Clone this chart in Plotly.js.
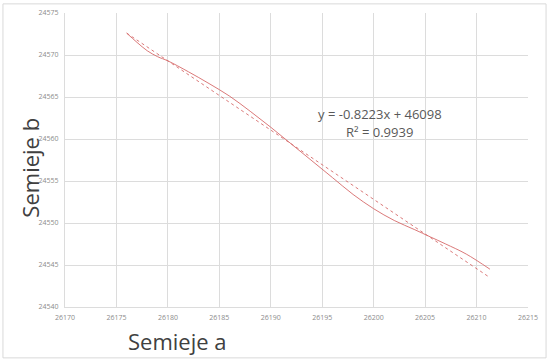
<!DOCTYPE html>
<html>
<head>
  <title>Semieje a vs Semieje b</title>
  <script src="https://cdn.plot.ly/plotly-3.0.1.min.js"></script>
  <style>
    body { margin: 0; background: #fff; }
    #graph { width: 550px; height: 362px; }
  </style>
</head>
<body>
  <div id="graph"></div>
  <script>
    const semiejeA = [26176.0, 26177, 26178, 26179, 26180, 26182, 26184, 26186, 26188, 26190,
                      26192, 26194, 26196, 26198, 26200, 26202, 26204, 26205.5, 26207, 26209, 26211.3];
    const semiejeB = [24572.6, 24571.5, 24570.5, 24569.8, 24569.3, 24568.0, 24566.6, 24565.1, 24563.3, 24561.4,
                      24559.4, 24557.4, 24555.4, 24553.4, 24551.7, 24550.3, 24549.2, 24548.35, 24547.5, 24546.3, 24544.5];

    // linear trendline end points
    const trendA = [26176.0, 26211.3];
    const trendB = [24572.6, 24543.5];

    const eqText = 'y = -0.8223x + 46098';
    const r2Text = 'R² = 0.9939';

    const red = '#d66a6a';
    const grid = '#dcdcdc';
    const tickFont = { family: 'Open Sans, sans-serif', size: 7, color: '#8c8c8c' };
    const titleFont = { family: 'Open Sans, sans-serif', size: 22, color: '#404040' };
    const eqFont = { family: 'Open Sans, sans-serif', size: 13, color: '#595959' };

    const data = [
      { x: semiejeA, y: semiejeB, mode: 'lines', line: { color: red, width: 0.9, shape: 'spline' }, hoverinfo: 'skip' },
      { x: trendA, y: trendB, mode: 'lines', line: { color: red, width: 0.9, dash: 'dot' }, hoverinfo: 'skip' }
    ];

    const layout = {
      width: 550, height: 362,
      margin: { l: 65, r: 22, t: 13, b: 55 },
      paper_bgcolor: '#fff', plot_bgcolor: '#fff',
      showlegend: false,
      xaxis: {
        range: [26170, 26215], tick0: 26170, dtick: 5, tickformat: 'd',
        showgrid: true, gridcolor: grid, gridwidth: 1,
        showline: true, linecolor: grid, zeroline: false,
        ticks: '', tickfont: tickFont, ticklabelstandoff: 4
      },
      yaxis: {
        range: [24540, 24575], tick0: 24540, dtick: 5, tickformat: 'd',
        showgrid: true, gridcolor: grid, gridwidth: 1,
        showline: true, linecolor: grid, zeroline: false,
        ticks: '', tickfont: tickFont, ticklabelstandoff: 4
      },
      annotations: [
        { text: eqText, xref: 'paper', yref: 'paper', x: 0.68, y: 0.656, xanchor: 'center', yanchor: 'middle',
          showarrow: false, font: eqFont },
        { text: r2Text, xref: 'paper', yref: 'paper', x: 0.68, y: 0.595, xanchor: 'center', yanchor: 'middle',
          showarrow: false, font: eqFont },
        { text: 'Semieje b', xref: 'paper', yref: 'paper', x: -0.075, y: 0.475, xanchor: 'center', yanchor: 'middle',
          showarrow: false, textangle: -90, font: titleFont },
        { text: 'Semieje a', xref: 'paper', yref: 'paper', x: 0.242, y: -0.115, xanchor: 'center', yanchor: 'middle',
          showarrow: false, font: titleFont }
      ],
      shapes: [
        { type: 'rect', xref: 'paper', yref: 'paper', x0: -0.134, x1: 1.039, y0: -0.173, y1: 1.031,
          line: { color: '#d9d9d9', width: 1 }, fillcolor: 'rgba(0,0,0,0)', layer: 'below' }
      ]
    };

    Plotly.newPlot('graph', data, layout, { staticPlot: true, displayModeBar: false });
  </script>
</body>
</html>
